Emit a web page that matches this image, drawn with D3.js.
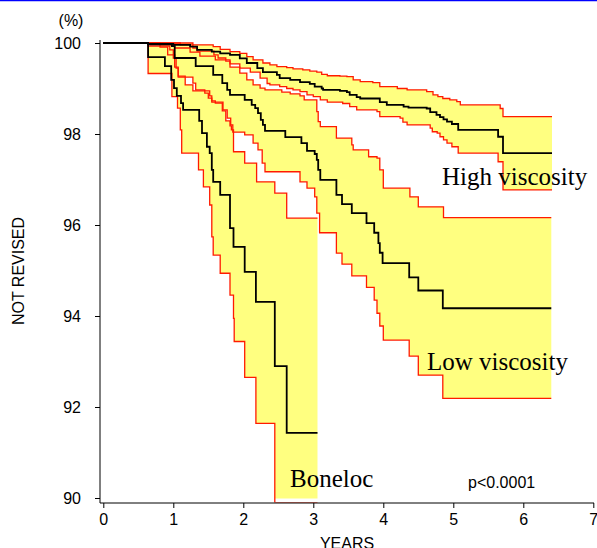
<!DOCTYPE html>
<html>
<head>
<meta charset="utf-8">
<script src="https://cdn.jsdelivr.net/npm/d3@7"></script>
<style>
html,body{margin:0;padding:0;background:#fff;}
svg{display:block;}
</style>
</head>
<body>
<svg id="chart" width="597" height="548"></svg>
<script>
// ---- data (years, % not revised) : step points [time, value from this time on]
const xTicks = [0,1,2,3,4,5,6,7];
const yTicks = [90,92,94,96,98,100];
const groupNames = ["High viscosity","Low viscosity","Boneloc"];
const groupEnds = [6.41, 6.40, 3.06];

const highSurv = [[0,100],[0.64,99.98],[1.00,99.96],[1.24,99.92],[1.34,99.85],[1.55,99.81],[1.67,99.77],[1.81,99.74],[1.95,99.66],[2.05,99.56],[2.20,99.45],[2.28,99.36],[2.48,99.30],[2.52,99.23],[2.67,99.19],[2.81,99.14],[2.95,99.10],[3.02,99.04],[3.12,99.00],[3.14,98.97],[3.38,98.95],[3.48,98.92],[3.52,98.86],[3.62,98.81],[3.67,98.78],[3.95,98.70],[4.05,98.64],[4.29,98.60],[4.36,98.58],[4.62,98.56],[4.67,98.48],[4.76,98.42],[4.81,98.37],[4.86,98.32],[4.91,98.27],[4.98,98.22],[5.07,98.09],[5.64,97.94],[5.71,97.58]];
const highUpper = [[0,100],[1.28,99.96],[1.57,99.92],[1.67,99.86],[1.81,99.81],[1.95,99.77],[2.05,99.70],[2.14,99.63],[2.28,99.56],[2.38,99.52],[2.48,99.48],[2.62,99.46],[2.71,99.43],[2.85,99.41],[2.95,99.38],[3.05,99.36],[3.12,99.31],[3.20,99.28],[3.38,99.27],[3.48,99.26],[3.57,99.19],[3.67,99.15],[3.85,99.13],[3.95,99.04],[4.20,99.00],[4.34,98.97],[4.62,98.93],[4.71,98.86],[4.78,98.82],[4.85,98.78],[4.95,98.75],[5.05,98.71],[5.10,98.64],[5.67,98.56],[5.71,98.38]];
const highLower = [[0,100],[0.67,99.96],[1.02,99.89],[1.24,99.80],[1.38,99.71],[1.60,99.63],[1.81,99.54],[1.95,99.45],[2.10,99.36],[2.24,99.23],[2.34,99.11],[2.38,99.08],[2.52,99.04],[2.62,99.00],[2.71,98.97],[2.81,98.93],[2.91,98.86],[3.00,98.82],[3.10,98.75],[3.20,98.70],[3.42,98.67],[3.52,98.60],[3.62,98.53],[3.91,98.49],[3.95,98.38],[4.24,98.35],[4.28,98.26],[4.34,98.20],[4.67,98.13],[4.70,98.05],[4.77,98.02],[4.81,97.94],[4.86,97.87],[4.91,97.80],[4.98,97.72],[5.07,97.58],[5.64,97.39],[5.71,96.77]];

const lowSurv = [[0,100],[0.64,99.97],[0.98,99.93],[1.02,99.67],[1.32,99.49],[1.57,99.30],[1.70,99.12],[1.77,98.97],[1.81,98.86],[2.02,98.75],[2.12,98.64],[2.17,98.57],[2.21,98.46],[2.25,98.31],[2.28,98.20],[2.31,98.07],[2.60,97.93],[2.83,97.80],[2.91,97.63],[3.02,97.56],[3.05,97.43],[3.07,97.21],[3.10,96.99],[3.33,96.66],[3.41,96.46],[3.55,96.26],[3.76,96.04],[3.87,95.83],[3.93,95.60],[3.95,95.39],[3.99,95.16],[4.37,94.85],[4.50,94.56],[4.85,94.17]];
const lowUpper = [[0,100],[1.10,99.96],[1.28,99.89],[1.34,99.82],[1.58,99.74],[1.64,99.67],[1.75,99.60],[1.81,99.47],[1.95,99.34],[2.05,99.19],[2.14,99.08],[2.24,99.01],[2.31,98.97],[2.55,98.92],[2.67,98.88],[2.81,98.84],[2.87,98.75],[3.05,98.49],[3.07,98.27],[3.10,98.16],[3.33,97.91],[3.55,97.76],[3.57,97.65],[3.79,97.50],[3.91,97.47],[3.95,97.21],[4.00,96.81],[4.38,96.62],[4.50,96.40],[4.86,96.16]];
const lowLower = [[0,100],[0.81,99.91],[0.92,99.74],[1.02,99.47],[1.07,99.25],[1.28,99.12],[1.32,98.97],[1.45,98.90],[1.50,98.79],[1.55,98.70],[1.71,98.53],[1.77,98.35],[1.82,98.20],[1.85,98.04],[2.02,97.98],[2.14,97.80],[2.21,97.65],[2.27,97.36],[2.31,97.17],[2.81,96.95],[2.91,96.81],[3.02,96.62],[3.05,96.26],[3.09,95.83],[3.33,95.38],[3.41,95.14],[3.55,94.88],[3.76,94.63],[3.87,94.35],[3.91,94.06],[3.95,93.78],[4.00,93.47],[4.37,93.12],[4.50,92.70],[4.85,92.19]];

const bonelocSurv = [[0,100],[0.64,99.69],[0.88,99.49],[0.97,99.19],[1.01,99.01],[1.05,98.84],[1.11,98.68],[1.14,98.53],[1.37,98.29],[1.41,98.02],[1.48,97.72],[1.52,97.58],[1.55,97.21],[1.57,96.95],[1.67,96.66],[1.81,95.93],[1.86,95.52],[2.02,94.97],[2.18,94.31],[2.45,92.90],[2.62,91.43]];
const bonelocUpper = [[0,100],[0.64,99.93],[0.95,99.85],[1.00,99.67],[1.04,99.45],[1.07,99.27],[1.17,99.08],[1.28,98.95],[1.52,98.84],[1.55,98.73],[1.60,98.68],[1.70,98.51],[1.75,98.29],[1.81,98.18],[1.83,98.09],[1.86,97.61],[2.02,97.36],[2.19,96.95],[2.45,96.70],[2.62,96.15]];
const bonelocLower = [[0,100],[0.64,99.33],[0.98,98.82],[1.06,98.57],[1.10,98.09],[1.12,97.58],[1.36,97.21],[1.43,96.84],[1.52,96.44],[1.55,95.74],[1.57,95.34],[1.67,94.94],[1.81,94.46],[1.86,93.95],[1.87,93.44],[2.02,92.65],[2.18,91.64],[2.45,89.90]];

const pLabel = "p<0.0001";

// ---- drawing
const svg = d3.select("#chart");
const x = d3.scaleLinear().domain([0,7]).range([103.3,593.3]);
const y = d3.scaleLinear().domain([90,100]).range([498,43]);

svg.append("line").attr("x1",0).attr("x2",597).attr("y1",0.5).attr("y2",0.5)
  .attr("stroke","#0000ff").attr("stroke-width",1.5);

const defs = svg.append("defs");
defs.append("clipPath").attr("id","clipFill").append("rect")
  .attr("x",95).attr("y",0).attr("width",500).attr("height",y(90)+0.5);
defs.append("clipPath").attr("id","clipLine").append("rect")
  .attr("x",95).attr("y",0).attr("width",500).attr("height",502.5);

function stepAt(series, t){
  let v = series[0][1];
  for(const p of series){ if(p[0] <= t) v = p[1]; else break; }
  return v;
}

const groups = [
  {surv: highSurv, upper: highUpper, lower: highLower, end: groupEnds[0]},
  {surv: lowSurv, upper: lowUpper, lower: lowLower, end: groupEnds[1]},
  {surv: bonelocSurv, upper: bonelocUpper, lower: bonelocLower, end: groupEnds[2]}
];

const fillG = svg.append("g").attr("clip-path","url(#clipFill)");
const redG = svg.append("g").attr("clip-path","url(#clipLine)");
const blackG = svg.append("g").attr("clip-path","url(#clipLine)");

const area = d3.area().curve(d3.curveStepAfter)
  .x(d => x(d.t)).y0(d => y(d.lo)).y1(d => y(d.hi));
const line = d3.line().curve(d3.curveStepAfter)
  .x(d => x(d[0])).y(d => y(d[1]));

function withEnd(series, end){
  return series.concat([[end, series[series.length-1][1]]]);
}

groups.forEach(g => {
  const times = Array.from(new Set(g.upper.map(d=>d[0]).concat(g.lower.map(d=>d[0])))).sort((a,b)=>a-b);
  times.push(g.end);
  const pts = times.map(t => ({t, lo: stepAt(g.lower,t), hi: stepAt(g.upper,t)}));
  fillG.append("path").attr("d", area(pts)).attr("fill","#ffff80").attr("stroke","none");
});
groups.forEach(g => {
  [g.upper, g.lower].forEach(s => {
    redG.append("path").attr("d", line(withEnd(s, g.end)))
      .attr("fill","none").attr("stroke","#ff1a00").attr("stroke-width",1.3);
  });
});
groups.forEach(g => {
  blackG.append("path").attr("d", line(withEnd(g.surv, g.end)))
    .attr("fill","none").attr("stroke","#000").attr("stroke-width",1.8);
});

// ---- axes
const font = "Liberation Sans, Arial, sans-serif";
const yAxis = svg.append("g").attr("transform","translate(100,0)")
  .call(d3.axisLeft(y).tickValues(yTicks).tickFormat(d3.format("d")).tickSize(5).tickPadding(14).tickSizeOuter(0));
yAxis.select(".domain").remove();
yAxis.append("line").attr("x1",0).attr("x2",0).attr("y1",40).attr("y2",503).attr("stroke","#000");
yAxis.selectAll("text").attr("font-family",font).attr("font-size",16).attr("fill","#000").attr("dy","0.36em");

const xAxis = svg.append("g").attr("transform","translate(0,503)")
  .call(d3.axisBottom(x).tickValues(xTicks).tickFormat(d3.format("d")).tickSize(5).tickPadding(6).tickSizeOuter(0));
xAxis.select(".domain").remove();
xAxis.append("line").attr("x1",100).attr("x2",594).attr("y1",0).attr("y2",0).attr("stroke","#000");
xAxis.selectAll("text").attr("font-family",font).attr("font-size",16).attr("fill","#000");
xAxis.selectAll(".tick line").attr("stroke","#000");
yAxis.selectAll(".tick line").attr("stroke","#000");

svg.append("text").attr("x",71).attr("y",26).attr("text-anchor","middle")
  .attr("font-family",font).attr("font-size",16).text("(%)");
svg.append("text").attr("x",347).attr("y",549).attr("text-anchor","middle")
  .attr("font-family",font).attr("font-size",16).text("YEARS");
svg.append("text").attr("transform","translate(24,271) rotate(-90)").attr("text-anchor","middle")
  .attr("font-family",font).attr("font-size",16).text("NOT REVISED");
svg.append("text").attr("x",468).attr("y",488)
  .attr("font-family",font).attr("font-size",16).text(pLabel);

const serif = "Liberation Serif, Times New Roman, serif";
const labelPos = [[442,185],[427,370],[290,487]];
groupNames.forEach((n,i) => {
  svg.append("text").attr("x",labelPos[i][0]).attr("y",labelPos[i][1])
    .attr("font-family",serif).attr("font-size",25).attr("fill","#000").text(n);
});
</script>
</body>
</html>
